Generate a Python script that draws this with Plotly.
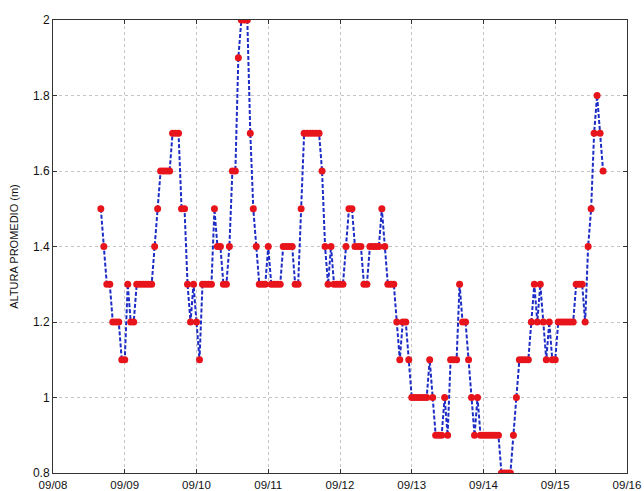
import plotly.graph_objects as go
import pandas as pd

# Hourly mean height readings, starting 09/08 16:00
start_time = "2011-09-08 16:00"
altura = [
    1.5, 1.4, 1.3, 1.3, 1.2, 1.2, 1.2, 1.1, 1.1, 1.3,
    1.2, 1.2, 1.3, 1.3, 1.3, 1.3, 1.3, 1.3, 1.4, 1.5,
    1.6, 1.6, 1.6, 1.6, 1.7, 1.7, 1.7, 1.5, 1.5, 1.3,
    1.2, 1.3, 1.2, 1.1, 1.3, 1.3, 1.3, 1.3, 1.5, 1.4,
    1.4, 1.3, 1.3, 1.4, 1.6, 1.6, 1.9, 2.0, 2.0, 2.0,
    1.7, 1.5, 1.4, 1.3, 1.3, 1.3, 1.4, 1.3, 1.3, 1.3,
    1.3, 1.4, 1.4, 1.4, 1.4, 1.3, 1.3, 1.5, 1.7, 1.7,
    1.7, 1.7, 1.7, 1.7, 1.6, 1.4, 1.3, 1.4, 1.3, 1.3,
    1.3, 1.3, 1.4, 1.5, 1.5, 1.4, 1.4, 1.4, 1.3, 1.3,
    1.4, 1.4, 1.4, 1.4, 1.5, 1.4, 1.3, 1.3, 1.3, 1.2,
    1.1, 1.2, 1.2, 1.1, 1.0, 1.0, 1.0, 1.0, 1.0, 1.0,
    1.1, 1.0, 0.9, 0.9, 0.9, 1.0, 0.9, 1.1, 1.1, 1.1,
    1.3, 1.2, 1.2, 1.1, 1.0, 0.9, 1.0, 0.9, 0.9, 0.9,
    0.9, 0.9, 0.9, 0.9, 0.8, 0.8, 0.8, 0.8, 0.9, 1.0,
    1.1, 1.1, 1.1, 1.1, 1.2, 1.3, 1.2, 1.3, 1.2, 1.1,
    1.2, 1.1, 1.1, 1.2, 1.2, 1.2, 1.2, 1.2, 1.2, 1.3,
    1.3, 1.3, 1.2, 1.4, 1.5, 1.7, 1.8, 1.7, 1.6,
]
tiempo = pd.date_range(start=start_time, periods=len(altura), freq="h")

x_range = ["2011-09-08", "2011-09-16"]
y_range = [0.8, 2.0]
y_title = "ALTURA PROMEDIO (m)"

fig = go.Figure()
fig.add_trace(go.Scatter(
    x=tiempo, y=altura, mode="lines+markers",
    line=dict(color="#1c2cc4", width=2, dash="4px,2px"),
    marker=dict(color="#e8141c", size=7, line=dict(width=0)),
    showlegend=False,
))

axis_font = dict(family="Liberation Sans, Arial, sans-serif", size=12, color="#111111")
fig.update_layout(
    width=644, height=491,
    margin=dict(l=53, r=17, t=20, b=18),
    paper_bgcolor="white", plot_bgcolor="white",
    font=axis_font,
)
fig.update_xaxes(
    type="date", range=x_range, dtick=86400000, tickformat="%m/%d",
    showgrid=True, gridcolor="#c4c4c4", griddash="dot", gridwidth=1,
    showline=True, linecolor="#333333", linewidth=1, mirror="allticks",
    ticks="inside", ticklen=4, tickcolor="#333333",
    tickfont=dict(family="Liberation Sans, Arial, sans-serif", size=11.5, color="#111111"),
    zeroline=False, automargin=False, ticklabelstandoff=1,
)
fig.update_yaxes(
    range=y_range, dtick=0.2, tick0=0.8,
    showgrid=True, gridcolor="#c4c4c4", griddash="dot", gridwidth=1,
    showline=True, linecolor="#333333", linewidth=1, mirror="allticks",
    ticks="inside", ticklen=4, tickcolor="#333333",
    tickfont=axis_font, zeroline=False, automargin=False,
    title=dict(text=y_title, font=dict(family="Liberation Sans, Arial, sans-serif", size=11, color="#111111"), standoff=12),
)

fig.write_html(
    "out.html",
    config={"displayModeBar": False},
    post_script="document.body.style.margin='0';",
)
